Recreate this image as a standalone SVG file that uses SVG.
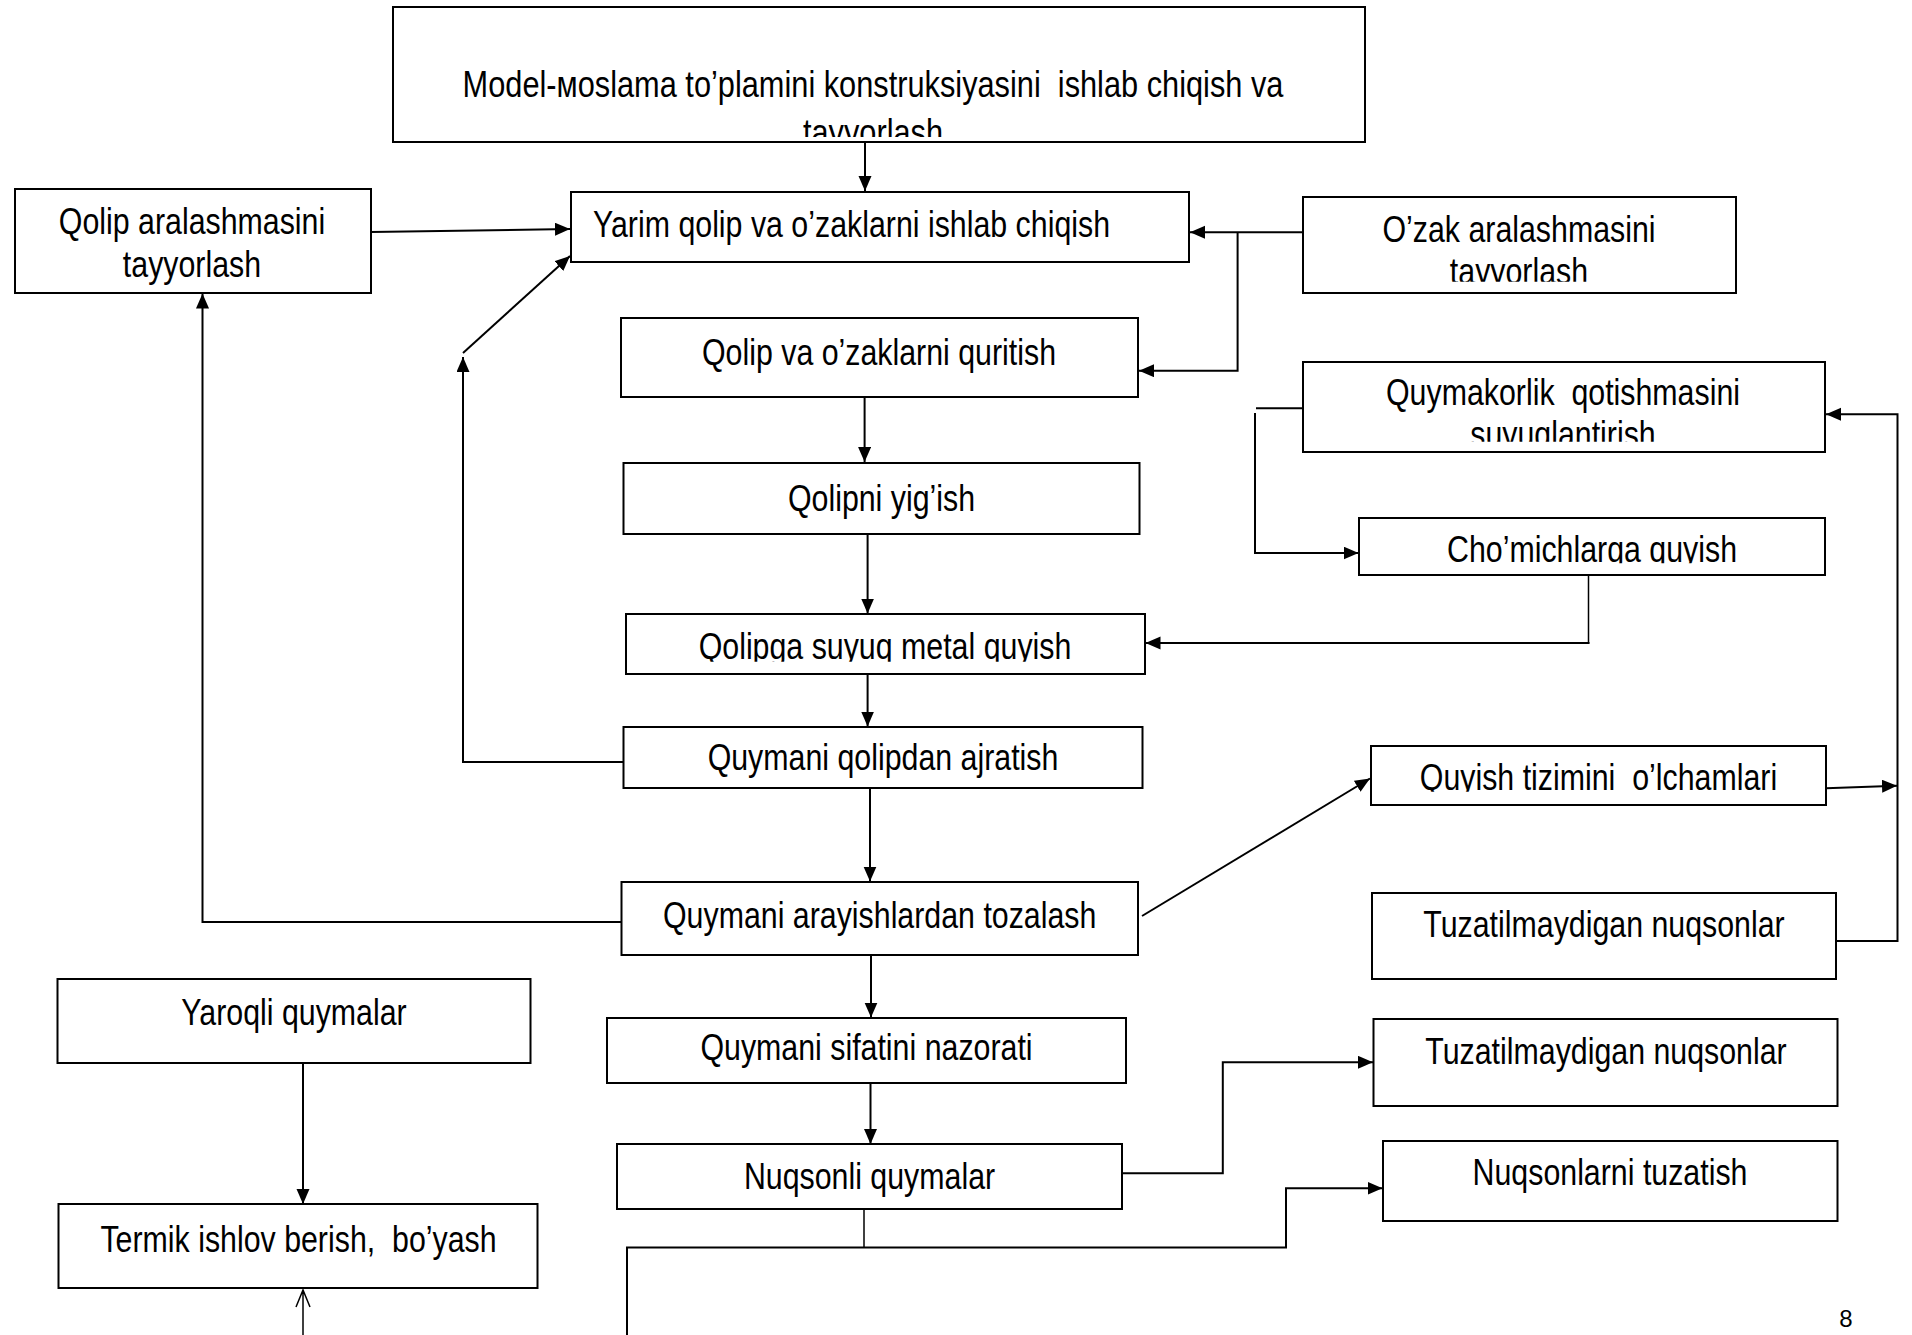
<svg xmlns="http://www.w3.org/2000/svg" width="1912" height="1335" viewBox="0 0 1912 1335">
<style>
.box{fill:#fff;stroke:#000;stroke-width:2}
.t{font-family:"Liberation Sans",Arial,sans-serif;font-size:37px;fill:#000;white-space:pre}
.c{text-anchor:middle}
.ln{fill:none;stroke:#000;stroke-width:2}
.lt{fill:none;stroke:#000;stroke-width:1.5}
</style>
<defs>
<marker id="ah" markerUnits="userSpaceOnUse" markerWidth="16" markerHeight="14" refX="15" refY="6.5" orient="auto">
<path d="M0,0 L15,6.5 L0,13 z" fill="#000"/>
</marker>
<clipPath id="c1"><rect x="394" y="0" width="972" height="137"/></clipPath>
<clipPath id="c2"><rect x="1303" y="190" width="433" height="91.7"/></clipPath>
<clipPath id="c3"><rect x="1303" y="360" width="522" height="81.7"/></clipPath>
<clipPath id="c4"><rect x="1359" y="510" width="466" height="53.3"/></clipPath>
<clipPath id="c5"><rect x="626" y="610" width="519" height="51.7"/></clipPath>
<clipPath id="c6"><rect x="1371" y="740" width="455" height="51.7"/></clipPath>
</defs>

<g id="n-model">
<rect class="box" x="393" y="7" width="972" height="135"/>
<g clip-path="url(#c1)">
<text class="t c" transform="translate(873,96.7) scale(0.82,1)" style="font-size:37.5px">Model-моslama to’plamini konstruksiyasini  ishlab chiqish va</text>
<text class="t c" transform="translate(873,145) scale(0.82,1)" style="font-size:37.5px">tayyorlash</text>
</g>
</g>

<g id="n-qolip-aral">
<rect class="box" x="15" y="189" width="356" height="104"/>
<text class="t c" transform="translate(192,234.3) scale(0.82,1)">Qolip aralashmasini</text>
<text class="t c" transform="translate(192,276.7) scale(0.82,1)">tayyorlash</text>
</g>

<g id="n-yarim">
<rect class="box" x="571" y="192" width="618" height="70"/>
<text class="t" transform="translate(593,237) scale(0.82,1)">Yarim qolip va o’zaklarni ishlab chiqish</text>
</g>

<g id="n-ozak">
<rect class="box" x="1303" y="197" width="433" height="96"/>
<g clip-path="url(#c2)">
<text class="t c" transform="translate(1519,242) scale(0.82,1)">O’zak aralashmasini</text>
<text class="t c" transform="translate(1519,284.4) scale(0.82,1)">tayyorlash</text>
</g>
</g>

<g id="n-quritish">
<rect class="box" x="621" y="318" width="517" height="79"/>
<text class="t c" transform="translate(879,365) scale(0.82,1)">Qolip va o’zaklarni quritish</text>
</g>

<g id="n-quymakorlik">
<rect class="box" x="1303" y="362" width="522" height="90"/>
<g clip-path="url(#c3)">
<text class="t c" transform="translate(1563,405) scale(0.82,1)">Quymakorlik  qotishmasini</text>
<text class="t c" transform="translate(1563,447) scale(0.82,1)">suyuqlantirish</text>
</g>
</g>

<g id="n-yigish">
<rect class="box" x="623.5" y="463" width="516" height="71"/>
<text class="t c" transform="translate(881.5,511) scale(0.82,1)">Qolipni yig’ish</text>
</g>

<g id="n-chomich">
<rect class="box" x="1359" y="518" width="466" height="57"/>
<g clip-path="url(#c4)">
<text class="t c" transform="translate(1592,562) scale(0.82,1)">Cho’michlarga quyish</text>
</g>
</g>

<g id="n-qolipga">
<rect class="box" x="626" y="614" width="519" height="60"/>
<g clip-path="url(#c5)">
<text class="t c" transform="translate(885,658.5) scale(0.82,1)">Qolipga suyuq metal quyish</text>
</g>
</g>

<g id="n-ajratish">
<rect class="box" x="623.5" y="727" width="519" height="61"/>
<text class="t c" transform="translate(883,770) scale(0.82,1)">Quymani qolipdan ajratish</text>
</g>

<g id="n-tizim">
<rect class="box" x="1371" y="746" width="455" height="59"/>
<g clip-path="url(#c6)">
<text class="t c" transform="translate(1598.5,790) scale(0.82,1)">Quyish tizimini  o’lchamlari</text>
</g>
</g>

<g id="n-tozalash">
<rect class="box" x="621.5" y="882" width="516.5" height="73"/>
<text class="t c" transform="translate(879.7,928) scale(0.82,1)">Quymani arayishlardan tozalash</text>
</g>

<g id="n-tuzat1">
<rect class="box" x="1372" y="893" width="464" height="86"/>
<text class="t c" transform="translate(1604,937) scale(0.82,1)">Tuzatilmaydigan nuqsonlar</text>
</g>

<g id="n-yaroqli">
<rect class="box" x="57.5" y="979" width="473" height="84"/>
<text class="t c" transform="translate(294,1024.5) scale(0.82,1)">Yaroqli quymalar</text>
</g>

<g id="n-sifat">
<rect class="box" x="607" y="1018" width="519" height="65"/>
<text class="t c" transform="translate(866.5,1060) scale(0.82,1)">Quymani sifatini nazorati</text>
</g>

<g id="n-tuzat2">
<rect class="box" x="1373.5" y="1019" width="464" height="87"/>
<text class="t c" transform="translate(1606,1063.5) scale(0.82,1)">Tuzatilmaydigan nuqsonlar</text>
</g>

<g id="n-nuqsonli">
<rect class="box" x="617" y="1144" width="505" height="65"/>
<text class="t c" transform="translate(869.5,1188.5) scale(0.82,1)">Nuqsonli quymalar</text>
</g>

<g id="n-tuzatish">
<rect class="box" x="1383" y="1141" width="454.5" height="80"/>
<text class="t c" transform="translate(1610,1185) scale(0.82,1)">Nuqsonlarni tuzatish</text>
</g>

<g id="n-termik">
<rect class="box" x="58.5" y="1204" width="479" height="84"/>
<text class="t c" transform="translate(298.5,1252) scale(0.82,1)">Termik ishlov berish,  bo’yash</text>
</g>

<g id="page-number">
<text x="1846" y="1327" style="font-family:'Liberation Sans',Arial,sans-serif;font-size:24px;text-anchor:middle">8</text>
</g>

<g id="connectors">
<path class="ln" d="M865,142 L865,191" marker-end="url(#ah)"/>
<path class="ln" d="M371,232 L570,229" marker-end="url(#ah)"/>
<path class="ln" d="M463,353 L570,256" marker-end="url(#ah)"/>
<path class="ln" d="M623,762 L463,762 L463,357" marker-end="url(#ah)"/>
<path class="ln" d="M1303,232.3 L1190,232.3" marker-end="url(#ah)"/>
<path class="ln" d="M1237.6,232.3 L1237.6,370.7 L1139,370.7" marker-end="url(#ah)"/>
<path class="ln" d="M864.6,397 L864.6,462" marker-end="url(#ah)"/>
<path class="ln" d="M867.6,534 L867.6,613.5" marker-end="url(#ah)"/>
<path class="ln" d="M1303,408.3 L1256,408.3"/>
<path class="ln" d="M1255,413 L1255,553 L1358.5,553" marker-end="url(#ah)"/>
<path class="lt" d="M1588.5,575 L1588.5,643.5"/>
<path class="ln" d="M1589.5,643 L1145.5,643" marker-end="url(#ah)"/>
<path class="ln" d="M867.6,674 L867.6,726.5" marker-end="url(#ah)"/>
<path class="ln" d="M870,788 L870,881.5" marker-end="url(#ah)"/>
<path class="ln" d="M621,922 L202.5,922 L202.5,293.5" marker-end="url(#ah)"/>
<path class="ln" d="M1142,916 L1370,778.5" marker-end="url(#ah)"/>
<path class="ln" d="M1826,788.3 L1897,785.7" marker-end="url(#ah)"/>
<path class="ln" d="M1836,941 L1897.5,941 L1897.5,414.3 L1826,414.3" marker-end="url(#ah)"/>
<path class="ln" d="M871,955 L871,1017.5" marker-end="url(#ah)"/>
<path class="ln" d="M870.5,1083 L870.5,1144" marker-end="url(#ah)"/>
<path class="ln" d="M1122,1173.3 L1222.8,1173.3 L1222.8,1062.3 L1373,1062.3" marker-end="url(#ah)"/>
<path class="lt" d="M864,1209 L864,1247.5"/>
<path class="ln" d="M627,1335 L627,1247.5 L1286,1247.5 L1286,1188.3 L1382.5,1188.3" marker-end="url(#ah)"/>
<path class="ln" d="M303,1063.5 L303,1204" marker-end="url(#ah)"/>
<path class="lt" d="M303,1335 L303,1290 M296,1307 L303,1290 L310,1307"/>
</g>
</svg>
